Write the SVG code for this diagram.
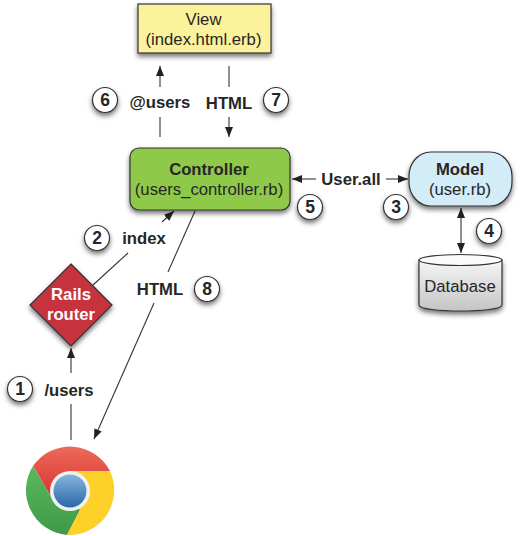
<svg xmlns="http://www.w3.org/2000/svg" width="520" height="536" viewBox="0 0 520 536">
<style>
text{font-family:"Liberation Sans",Arial,sans-serif;text-anchor:middle;fill:#262626}
.n{font-size:16.700px}
.b{font-size:16.700px;font-weight:bold}
.num{font-size:17.500px;font-weight:bold}
.s{stroke:#333;stroke-width:1.2}
.c{stroke:#333;stroke-width:1.1;fill:none}
.a{marker-end:url(#ah)}
.badge{fill:#fff;stroke:#333;stroke-width:1.2;filter:url(#sh)}
</style>
<defs>
<marker id="ah" viewBox="0 0 10 8" refX="10" refY="4" markerWidth="10" markerHeight="8" markerUnits="userSpaceOnUse" orient="auto-start-reverse"><path d="M0 0L10 4L0 8z" fill="#222"/></marker>
<filter id="sh" x="-30%" y="-30%" width="160%" height="170%"><feDropShadow dx="0" dy="3" stdDeviation="2.500" flood-color="#000" flood-opacity=".55"/></filter>
<linearGradient id="db" x1="0" y1="0" x2="0" y2="1"><stop offset="0" stop-color="#f6f6f6"/><stop offset="1" stop-color="#c4c4c4"/></linearGradient>
<linearGradient id="bl" x1="0" y1="0" x2="0" y2="1"><stop offset="0" stop-color="#86b4dd"/><stop offset="1" stop-color="#2a69a8"/></linearGradient>
<linearGradient id="rd" x1="0" y1="0" x2="0" y2="1"><stop offset="0" stop-color="#ee6a5c"/><stop offset="1" stop-color="#d8362f"/></linearGradient>
<linearGradient id="gr" x1="0" y1="0" x2="0" y2="1"><stop offset="0" stop-color="#5cb85c"/><stop offset="1" stop-color="#3f9a48"/></linearGradient>
</defs>
<g id="connectors">
<path class="c a" d="M160 87V66"/><path class="c" d="M160 117V137"/>
<path class="c" d="M229 66V87"/><path class="c a" d="M229 117V137"/>
<path class="c a" d="M316 179H292"/><path class="c a" d="M386 179H408"/>
<path class="c a" d="M461 231V208"/><path class="c a" d="M461 231V253"/>
<path class="c" d="M93 285L128 253"/><path class="c a" d="M162 222L174 211"/>
<path class="c" d="M195 211L168 272"/><path class="c a" d="M154 303L94 439"/>
<path class="c a" d="M71 373V348"/><path class="c" d="M71 404V440"/>
</g>
<g id="view"><rect class="s" x="138" y="4" width="133" height="49" fill="#fdf29c" filter="url(#sh)"/><text class="n" x="203.500" y="24.500">View</text><text class="n" x="203.500" y="45">(index.html.erb)</text></g>
<g id="controller"><rect class="s" x="130" y="148" width="160" height="62" rx="9" fill="#8fc94a" filter="url(#sh)"/><text class="b" x="209" y="175">Controller</text><text class="n" x="209" y="195">(users_controller.rb)</text></g>
<g id="model"><rect class="s" x="409" y="152" width="103" height="54" rx="22" ry="24" fill="#d2ecf8" filter="url(#sh)"/><text class="b" x="460" y="175">Model</text><text class="n" x="460" y="195">(user.rb)</text></g>
<g id="database"><path class="s" d="M419 260V305C419 313 502 313 502 305V260z" fill="url(#db)" filter="url(#sh)"/><ellipse class="s" cx="460.500" cy="260" rx="41.500" ry="5.500" fill="#fafafa"/><text class="n" x="460" y="291.500">Database</text></g>
<g id="router"><path class="s" d="M71 264L112 305L71 346L30 305z" fill="#c6323c" filter="url(#sh)"/><text class="b" x="71" y="300" style="fill:#fff">Rails</text><text class="b" x="71" y="320" style="fill:#fff">router</text></g>
<g id="chrome">
<path d="M33 466A45 45 0 0 1 110 471H70L50 495z" fill="url(#rd)"/>
<path d="M33 466L50 495L70 491L80 510L67 535A45 45 0 0 1 33 466z" fill="url(#gr)"/>
<path d="M110 471A45 45 0 0 1 67 535L80 510L70 471z" fill="#fdd02a"/>
<circle cx="70" cy="491" r="20" fill="#f1f1f1"/><circle cx="70" cy="491" r="16.500" fill="url(#bl)"/>
</g>
<g id="labels">
<text class="b" x="160" y="107.500">@users</text><text class="b" x="229" y="108.500">HTML</text>
<text class="b" x="351" y="184.500">User.all</text><text class="b" x="144" y="243.500">index</text>
<text class="b" x="160" y="294.500">HTML</text><text class="b" x="69" y="395.500">/users</text>
</g>
<g id="b1"><circle class="badge" cx="20" cy="389" r="12.500"/><text class="num" x="20" y="395">1</text></g>
<g id="b2"><circle class="badge" cx="97" cy="238" r="12.500"/><text class="num" x="97" y="244">2</text></g>
<g id="b3"><circle class="badge" cx="396" cy="207" r="12.500"/><text class="num" x="396" y="213">3</text></g>
<g id="b4"><circle class="badge" cx="489" cy="231" r="12.500"/><text class="num" x="489" y="237">4</text></g>
<g id="b5"><circle class="badge" cx="310" cy="207" r="12.500"/><text class="num" x="310" y="213">5</text></g>
<g id="b6"><circle class="badge" cx="105" cy="100" r="12.500"/><text class="num" x="105" y="106">6</text></g>
<g id="b7"><circle class="badge" cx="276" cy="100" r="12.500"/><text class="num" x="276" y="106">7</text></g>
<g id="b8"><circle class="badge" cx="207" cy="289" r="12.500"/><text class="num" x="207" y="295">8</text></g>
</svg>
